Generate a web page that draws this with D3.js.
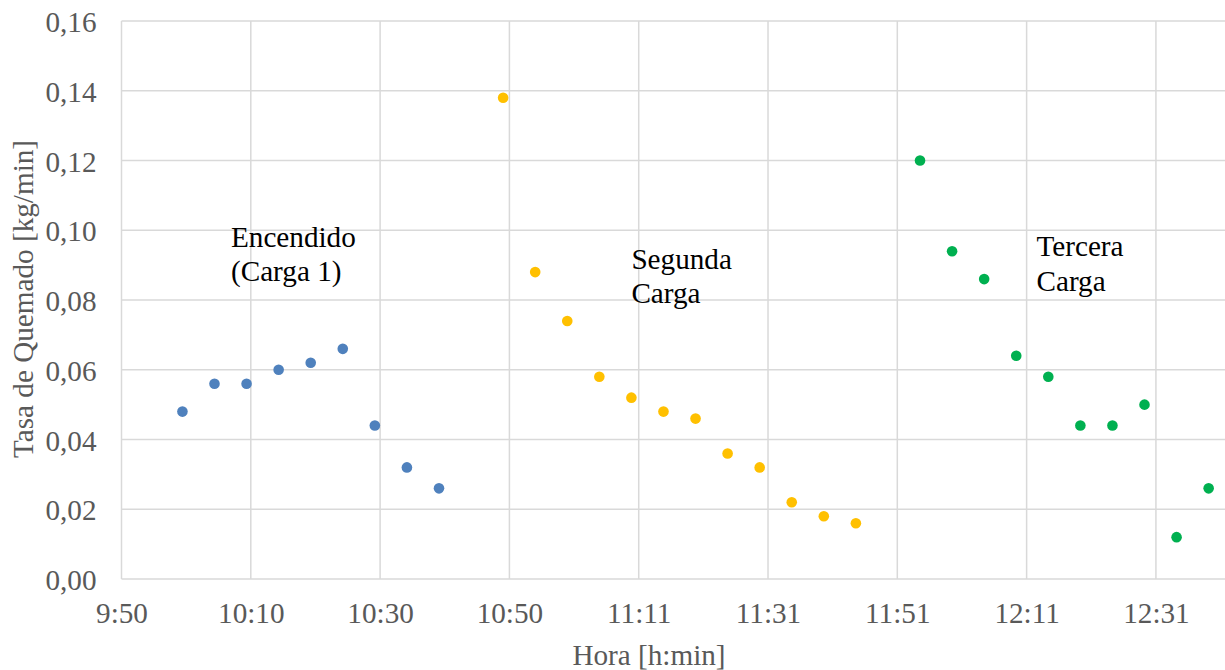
<!DOCTYPE html>
<html>
<head>
<meta charset="utf-8">
<script src="https://cdn.jsdelivr.net/npm/d3@7"></script>
<style>
  html, body { margin: 0; padding: 0; background: #fff; }
  svg { display: block; }
</style>
</head>
<body>
<svg id="chart" width="1225" height="670"></svg>
<script>
// ---- Data (time in minutes after midnight, rate in kg/min) ----
const serie1Times = [599.5, 604.5, 609.5, 614.5, 619.5, 624.5, 629.5, 634.5, 639.5];
const serie1Values = [0.048, 0.056, 0.056, 0.060, 0.062, 0.066, 0.044, 0.032, 0.026];

const serie2Times = [649.5, 654.5, 659.5, 664.5, 669.5, 674.5, 679.5, 684.5, 689.5, 694.5, 699.5, 704.5];
const serie2Values = [0.138, 0.088, 0.074, 0.058, 0.052, 0.048, 0.046, 0.036, 0.032, 0.022, 0.018, 0.016];

const serie3Times = [714.5, 719.5, 724.5, 729.5, 734.5, 739.5, 744.5, 749.5, 754.5, 759.5];
const serie3Values = [0.120, 0.094, 0.086, 0.064, 0.058, 0.044, 0.044, 0.050, 0.012, 0.026];

const xTickValues = [590, 610.16, 630.32, 650.48, 670.64, 690.8, 710.96, 731.12, 751.28];
const xTickLabels = ["9:50", "10:10", "10:30", "10:50", "11:11", "11:31", "11:51", "12:11", "12:31"];
const yTickValues = [0, 0.02, 0.04, 0.06, 0.08, 0.10, 0.12, 0.14, 0.16];
const yTickLabels = ["0,00", "0,02", "0,04", "0,06", "0,08", "0,10", "0,12", "0,14", "0,16"];

const seriesNames = ["Encendido", "Segunda Carga", "Tercera Carga"];
const seriesColors = ["#4F81BD", "#FFC000", "#00B050"];

const annotationLines = [["Encendido", "(Carga 1)"], ["Segunda", "Carga"], ["Tercera", "Carga"]];
const annotationAnchors = [[607.07, 0.0952], [669.5, 0.0889], [732.66, 0.0926]]; // [time, value] of first line baseline

// ---- Layout ----
const svg = d3.select("#chart");
const mLeft = 121.5, mRight = 1225, mTop = 21, mBottom = 579;
const x = d3.scaleLinear().domain([590, 762.05]).range([mLeft, mRight]);
const y = d3.scaleLinear().domain([0, 0.16]).range([mBottom, mTop]);

const FONT = '"Liberation Serif"';
const fontSize = "29.2px";
const gridColor = "#d9d9d9";
const labelColor = "#595959";

// gridlines
const grid = svg.append("g");
grid.selectAll("line.h").data(yTickValues).join("line")
  .attr("x1", mLeft).attr("x2", mRight)
  .attr("y1", d => y(d)).attr("y2", d => y(d))
  .attr("stroke", gridColor).attr("stroke-width", 1.5);
grid.selectAll("line.v").data(xTickValues).join("line")
  .attr("x1", d => x(d)).attr("x2", d => x(d))
  .attr("y1", mTop).attr("y2", mBottom)
  .attr("stroke", gridColor).attr("stroke-width", 1.5);

// y axis labels
const yAxis = d3.axisLeft(y).tickValues(yTickValues)
  .tickFormat((d, i) => yTickLabels[i]).tickSize(0).tickPadding(25);
const gy = svg.append("g").attr("transform", `translate(${mLeft},0)`).call(yAxis)
  .attr("font-family", null).attr("font-size", null);
gy.select(".domain").remove();
gy.selectAll("text").style("font-family", FONT).style("font-size", fontSize)
  .attr("fill", labelColor).attr("dy", "0.36em");

// x axis labels
const xAxis = d3.axisBottom(x).tickValues(xTickValues)
  .tickFormat((d, i) => xTickLabels[i]).tickSize(0).tickPadding(23);
const gx = svg.append("g").attr("transform", `translate(0,${mBottom})`).call(xAxis)
  .attr("font-family", null).attr("font-size", null);
gx.select(".domain").remove();
gx.selectAll("text").style("font-family", FONT).style("font-size", fontSize)
  .attr("fill", labelColor);

// axis titles
svg.append("text").attr("x", 649).attr("y", 665).attr("text-anchor", "middle")
  .style("font-family", FONT).style("font-size", fontSize).attr("fill", labelColor).text("Hora [h:min]");
svg.append("text").attr("transform", "translate(33,299) rotate(-90)").attr("text-anchor", "middle")
  .style("font-family", FONT).style("font-size", fontSize).attr("fill", labelColor).text("Tasa de Quemado [kg/min]");

// points
const allSeries = [
  { t: serie1Times, v: serie1Values },
  { t: serie2Times, v: serie2Values },
  { t: serie3Times, v: serie3Values }
];
allSeries.forEach((s, si) => {
  svg.append("g").selectAll("circle")
    .data(s.t.map((t, i) => [t, s.v[i]]))
    .join("circle")
    .attr("cx", d => x(d[0])).attr("cy", d => y(d[1]))
    .attr("r", 5.3).attr("fill", seriesColors[si]);
});

// annotations
annotationLines.forEach((lines, i) => {
  const t = svg.append("text").style("font-family", FONT).style("font-size", fontSize).attr("fill", "#000");
  lines.forEach((ln, j) => {
    t.append("tspan").attr("x", x(annotationAnchors[i][0]))
      .attr("y", y(annotationAnchors[i][1]) + j * 34.5).text(ln);
  });
});
</script>
</body>
</html>
